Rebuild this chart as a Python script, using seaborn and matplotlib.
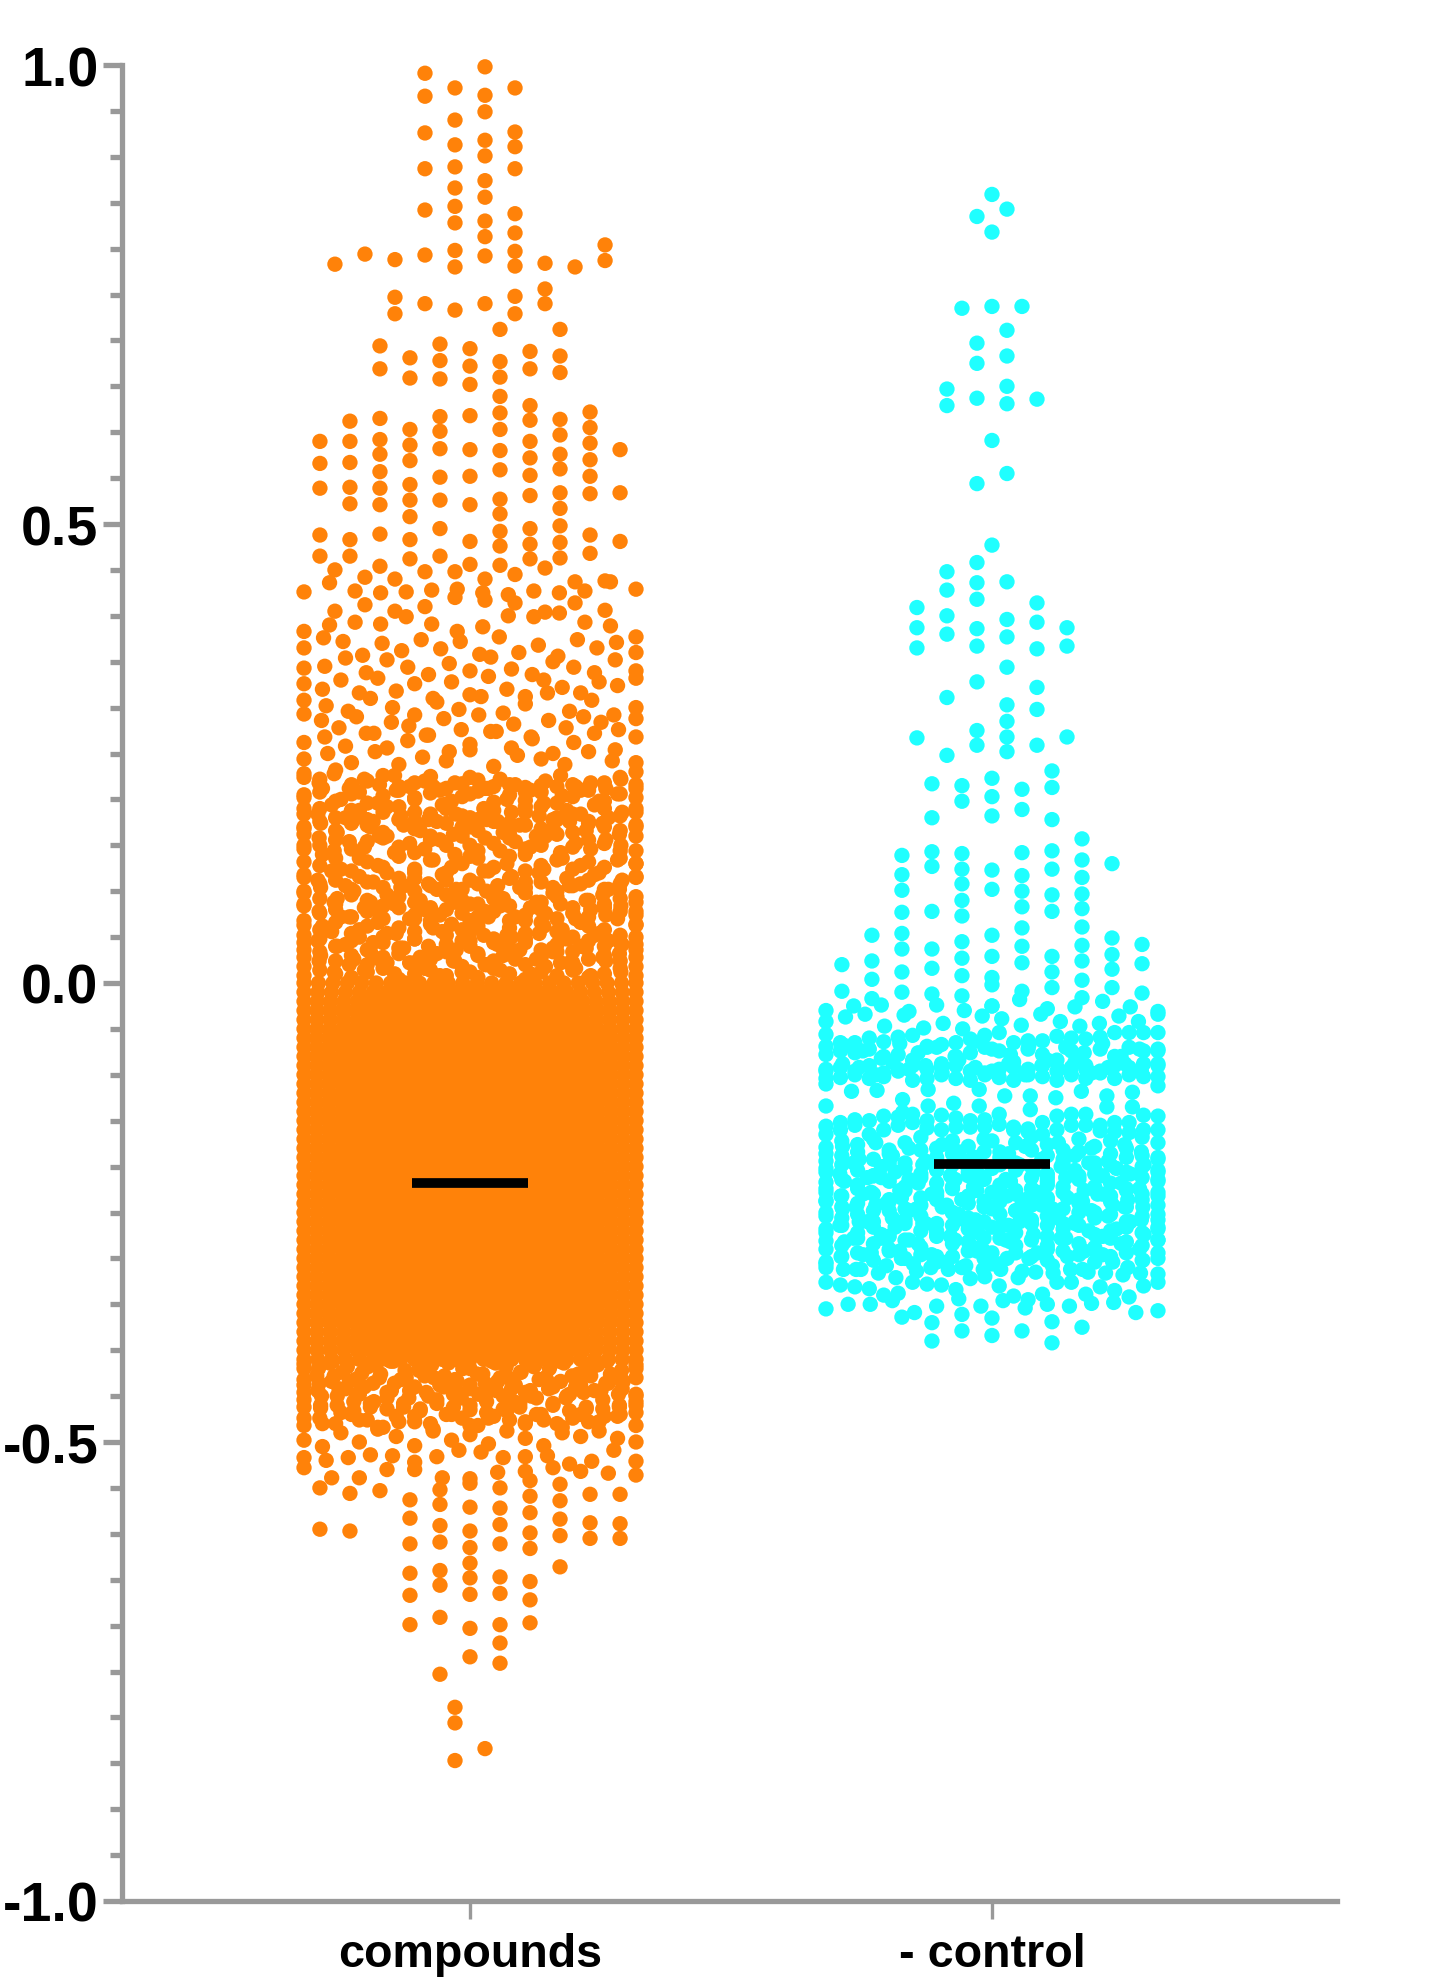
import matplotlib
matplotlib.use("Agg")
import matplotlib.pyplot as plt
import numpy as np
import pandas as pd
import seaborn as sns

sns.set_style("white")
plt.rcParams['font.family'] = ['Liberation Sans', 'DejaVu Sans']

# values are read off the picture, in thousandths of the y unit
# each inner list is one row of the dot plot, left to right, _ leaves a place empty
_ = None

categories = ["compounds", "- control"]
mean_values = [-0.218, -0.1975]
y_ticks = [-1.0, -0.5, 0.0, 0.5, 1.0]
y_tick_labels = ["-1.0", "-0.5", "0.0", "0.5", "1.0"]

orange_top = [
    [991, 975, 998, 975], [966, 940, 967, 927], [926, 913, 949, 911], [887, 889, 918, 887],
    [_, 866, 901, _], [_, 846, 874, _], [842, 828, 856, 838], [_, _, 830, 817], [_, _, 813, _],
    [783, 794, 788, 793, 798, 792, 797, 784, 780, 787],
    [_, _, _, _, 780, _, 781, _, _, 804],
    [747, 740, 733, 740, 748, 756], [729, _, _, _, 729, 740],
    [590, 612, 694, 681, 696, 691, 712, 688, 712, 622, 581],
    [566, 590, 669, 659, 678, 672, 677, 669, 683, 605, 534],
    [539, 567, 615, 603, 658, 652, 660, 629, 665, 588, 481],
    [488, 540, 592, 586, 617, 618, 639, 613, 614, 570, _],
    [465, 522, 576, 569, 601, 581, 621, 590, 597, 552, _],
    [_, 483, 557, 543, 582, 552, 603, 572, 576, 533, _],
    [_, 465, 539, 526, 551, 521, 580, 553, 560, 488, _],
    [_, _, 521, 508, 526, 481, 559, 531, 534, 468, _],
    [_, _, 489, 483, 495, 456, 527, 495, 517, _, _],
    [_, _, 454, 462, 465, _, 511, 478, 498, _, _],
    [_, _, _, _, _, _, 492, 462, 480, _, _],
    [_, _, _, _, _, _, 476, _, 463, _, _],
    [_, _, _, _, _, _, 455, _, _, _, _],
]

orange_upper = [
    [426, 436, 427, 425, 426, 428, 429, 425, 423, 427, 425, 427, 437, 429],
    [_, 450, 442, 440, 448, 448, 440, 445, 452, 437, 438, _],
    [_, 405, 412, 405, 410, 420, 417, 414, 404, 414, 406, _],
    [383, 390, 393, 391, 399, 391, 383, 388, 400, 399, 403, 393, 389, 377],
    [365, 376, 372, 357, 370, 362, 374, 364, 372, 358, 377, 360, 368, 356, 374, 365, 371, 360],
    [343, 345, 354, 338, 352, 344, 336, 348, 340, 355, 342, 336, 350, 344, 338, 352, 340],
    [326, 320, 330, 316, 332, 318, 326, 310, 328, 314, 334, 320, 312, 330, 322, 316, 328, 324, 332],
    [308, 302, 296, 310, 300, 292, 306, 298, 312, 294, 304, 316, 296, 308, 292, 300],
    [293, 286, 278, 290, 272, 284, 280, 270, 288, 276, 292, 274, 282, 268, 286, 278, 290, 284, 276, 288],
    [262, 268, 258, 272, 256, 264, 270, 252, 260, 274, 256, 266, 250, 262, 272, 254, 268],
    [244, 250, 240, 252, 238, 246, 242, 254, 236, 248, 244, 238, 252, 242, 240],
]

orange_band = [
    [228, 222, 232, 216, 220, 226, 214, 218, 225, 212, 217, 221, 214, 216, 213, 215, 214, 216, 213, 218, 224, 230],
    [224, 218, 228, 212, 222, 216, 226, 214, 220, 210, 218, 224, 212, 222, 216, 210, 220, 226, 214, 218, 212, 222, 216],
    [202, 208, 198, 206, 196, 204, 210, 200, 207, 195, 203, 209, 197, 205, 199, 208, 196, 203, 210, 198, 206, 202],
    [205, 212, 200, 208, 196, 210, 202, 214, 198, 206, 212, 200, 208, 196, 204, 210, 198, 206, 212],
    [184, 190, 180, 188, 178, 186, 192, 176, 184, 190, 182, 178, 188, 174, 186, 192, 180, 184, 176, 190, 182, 186],
    [190, 184, 194, 180, 188, 176, 192, 182, 186, 178, 194, 184, 180, 190, 176, 186, 192, 182, 178, 188, 184, 194, 180, 186, 190],
    [170, 176, 166, 174, 172, 164, 178, 168, 160, 174, 170, 166, 176, 162, 172, 168, 178, 164, 174, 170, 166, 172],
    [168, 174, 164, 178, 170, 160, 172, 166, 176, 162, 170, 178, 164, 172, 160, 168, 176, 166, 174, 162, 170],
    [162, 150, 156, 146, 154, 158, 148, 142, 156, 150, 160, 144, 152, 158, 146, 150, 162, 148, 156, 152, 144, 160],
    [150, 158, 144, 154, 148, 160, 142, 152, 146, 156, 140, 150, 158, 144, 154, 148, 160, 142, 152, 146, 156, 150, 144],
    [146, 128, 136, 122, 132, 126, 138, 124, 134, 120, 130, 136, 126, 138, 122, 128, 134, 124, 132, 126, 136, 130],
    [132, 140, 124, 136, 128, 142, 120, 134, 126, 138, 122, 130, 140, 124, 136, 128, 120, 134, 130],
    [115, 108, 112, 102, 110, 104, 114, 100, 106, 112, 102, 108, 98, 114, 104, 110, 100, 106, 112, 102, 108, 115],
    [118, 112, 122, 106, 116, 110, 120, 104, 114, 108, 118, 102, 112, 122, 106, 116, 110, 120, 104, 114, 108, 118, 102, 112, 116],
    [100, 92, 86, 96, 90, 84, 94, 88, 82, 96, 90, 86, 92, 84, 98, 88, 94, 82, 90, 86, 92, 88],
    [98, 104, 92, 100, 88, 96, 106, 90, 102, 94, 86, 100, 92, 104, 88, 98, 106, 90, 96, 102, 94],
    [86, 76, 80, 72, 78, 70, 82, 74, 68, 80, 76, 72, 78, 68, 74, 80, 70, 76, 72, 82, 78, 74],
    [84, 78, 88, 72, 82, 76, 86, 70, 80, 74, 88, 68, 78, 84, 72, 82, 76, 86, 70, 80, 74, 84, 78],
    [63, 58, 66, 54, 62, 50, 60, 56, 64, 52, 58, 62, 48, 60, 54, 66, 56, 50, 62, 58, 52, 63],
    [68, 62, 72, 58, 66, 54, 70, 60, 64, 56, 72, 52, 68, 62, 58, 66, 54, 70, 64],
    [44, 48, 40, 46, 36, 44, 38, 48, 34, 42, 46, 32, 44, 38, 48, 36, 42, 34, 46, 40, 44, 42],
    [52, 46, 56, 42, 50, 44, 54, 38, 48, 40, 56, 36, 46, 52, 42, 50, 44, 54, 38, 48, 40, 52, 46, 42, 50],
    [28, 34, 24, 30, 20, 28, 32, 22, 26, 34, 18, 30, 24, 32, 20, 28, 34, 22, 26, 30, 24, 28],
    [36, 30, 40, 26, 34, 22, 38, 28, 32, 24, 40, 20, 30, 36, 26, 34, 22, 38, 28, 32, 36],
    [8, 14, 10, 6, 12, 16, 4, 10, 14, 8, 12, 6, 16, 10, 4, 12, 8, 14, 6, 10, 16, 8],
    [18, 24, 12, 20, 14, 26, 10, 22, 16, 8, 24, 12, 20, 14, 26, 10, 18, 22, 16, 8, 24, 12, 18],
]

# the solid part of the orange column: level and number of dots on it
orange_block_levels = [0, -10, -20, -30, -40, -50, -60, -70, -80, -90, -100, -110, -120, -130,
                       -140, -150, -160, -170, -180, -190, -200, -210, -220, -230, -240, -250,
                       -260, -270, -280, -290, -300, -310, -320, -330, -340, -350, -360, -370,
                       -380, -390, -400, -410]
orange_block_counts = [24, 25, 26, 27, 26, 27, 28, 27, 28, 27, 28, 27, 28, 27,
                       28, 27, 28, 27, 28, 27, 28, 27, 28, 27, 28, 27,
                       28, 27, 28, 27, 28, 27, 28, 27, 28, 27, 28, 27,
                       26, 27, 26, 25]

orange_lower = [
    [-415, -420, -412, -418, -425, -416, -412, -422, -418, -430, -414, -420, -426, -412, -418, -424, -416, -420, -414, -426, -418, -412, -422, -416],
    [-420, -428, -414, -424, -432, -418, -426, -412, -430, -422, -416, -428, -434, -420, -426, -414, -430, -424, -418, -432, -412, -428, -422, -416, -426, -434, -420],
    [-432, -436, -428, -434, -440, -430, -436, -444, -428, -438, -432, -442, -436, -430, -438, -444, -430, -434, -440, -428, -436, -432, -430],
    [-438, -444, -434, -442, -448, -436, -446, -432, -440, -450, -436, -444, -438, -448, -434, -442, -446, -432, -440, -450, -438, -444, -436, -442, -448],
    [-446, -450, -442, -448, -456, -444, -452, -446, -440, -452, -448, -444, -456, -450, -442, -452, -446, -444, -448, -450],
    [-454, -460, -450, -456, -462, -452, -458, -464, -454, -448, -460, -456, -450, -462, -452, -458, -448, -464, -454, -460, -456],
    [-462, -463, -460, -466, -458, -464, -462, -466, -458, -462, -465, -468, -464, -458, -470, -460, -466, -462, -464, -462, -460],
    [-474, -480, -468, -476, -484, -472, -478, -486, -470, -482, -474, -466, -480, -476, -484, -470, -478, -472, -482],
    [-482, -474, -480, -470, -476, -484, -478, -472, -480, -470, -474, -482, -472, -476, -478, -470, -480, -474, -478, -472, -470, -468],
    [-498, -505, -490, -500, -486, -494, -504, -488, -498, -492, -502, -488, -496, -504, -490, -494, -488, -496, -500],
    [-517, -520, -517, -514, -515, -522, -516, -509, -511, -517, -516, -515, -524, -521, -509, -521],
    [-528, -539, -539, -530, -530, -539, -540, -533, -532, -528, -532, -534, -536],
    [-550, -556, -553, -563, -552, -545, -550, -542, -546, -557, -557],
    [-595, -597, _, -583, -568, -571, -572, -559, -564, -588, -589],
    [_, _, _, -611, -591, -597, -590, -577, -584, -605, -605],
    [_, _, _, -643, -609, -615, -611, -599, -602, _, _],
    [_, _, _, -667, -640, -632, -647, -616, -636, _, _],
    [_, _, _, -699, -656, -648, -665, -652, _, _, _],
    [_, _, _, _, -691, -666, -699, -672, _, _, _],
    [_, _, _, _, -753, -703, -719, -697, _, _, _],
    [_, _, _, _, _, -734, -741, _, _, _, _],
    [-789, -834], [-806, _], [-847, _],
]

cyan_top = [
    [859], [835, 843], [818], [735, 737, 737], [697, 711], [675, 683],
    [647, 637, 650, 636], [629, _, 631, _], [591], [544, 555], [477], [458, 437],
    [448, 436, _, 414], [428, 418, 396, 393],
    [409, 400, 386, 377, 364, 387], [387, 380, 367, _, _, 367], [365, _, _, _, _, _],
    [267, 311, 328, 344, 322, 268], [_, 248, 275, 303, 298, _], [_, _, 259, 285, 259, _],
    [_, _, _, 268, _, _], [_, _, _, 252, _, _],
    [_, _, 139, 217, 215, 223, 211, 231, 157, _, _],
    [_, _, 118, 180, 198, 203, 189, 213, 134, _, _],
    [_, _, 101, 143, 141, 182, 142, 178, 115, 130, _],
    [_, 52, 77, 127, 124, 123, 117, 144, 97, 49, 42],
    [20, 24, 54, 78, 108, 102, 100, 124, 81, 31, 21],
    [-9, 4, 37, 37, 90, 52, 83, 96, 61, 15, -11],
    [_, -17, 12, 16, 73, 29, 60, 78, 41, -5, _],
    [_, _, -10, -12, 45, 6, 40, 29, 24, _, _],
    [_, _, _, _, 27, -2, 22, 12, 3, _, _],
    [_, _, _, _, 8, -25, -9, -5, -16, _, _],
    [_, _, _, _, -14, _, _, _, _, _, _],
]

cyan_middle = [
    [-30, -25, -24, -31, -24, -30, -25, -18, -28, -26, -20, -26, -31],
    [-42, -37, -34, -47, -35, -49, -44, -50, -36, -39, -46, -34, -42, -47, -44, -36, -42, -34],
    [-56, -65, -65, -60, -64, -59, -57, -69, -67, -65, -61, -57, -54, -65, -63, -63, -58, -60, -61, -59, -54, -54, -54, -54],
    [-69, -74, -76, -72, -80, -78, -84, -70, -88, -80, -76, -70, -74, -86, -72, -78, -84, -74, -90, -72, -80, -70, -74, -72],
    [-78, -68, -74, -82, -66, -76, -70, -80, -64, -72, -78, -68, -84, -70, -76, -66, -80, -72, -74],
    [-94, -92, -96, -90, -98, -94, -90, -94, -92, -90, -96, -98, -94, -92, -94, -90, -96, -92, -94, -96, -90, -92, -88, -88],
    [-96, -88, -92, -100, -86, -94, -90, -98, -84, -92, -96, -88, -100, -90, -94, -86, -98, -92, -88, -96, -90],
    [-104, -103, -100, -104, -102, -96, -106, -104, -100, -104, -106, -100, -103, -106, -100, -102, -106, -100, -104, -98, -104, -100, -102, -102],
    [-110, -118, -117, -127, -116, -131, -116, -123, -123, -125, -118, -123, -119, -112],
    [-134, _, _, -141, -134, _, -134, _, -138, _, _, -135, -135, _],
    [-156, -152, -149, -150, -145, -146, -143, -150, -144, -147, -150, -149, -143, -157, -159, -152, -145, -143, -143, -155, -152, -152, -144, -145],
    [-165, -160, -155, -165, -160, -155, -152, -158, -160, -157, -157, -157, -154, -160, -162, -165, -160, -155, -155, -161, -162, -163, -160, -160],
]

cyan_dense = [
    [-179, -172, -176, -170, -182, -174, -168, -180, -172, -178, -170, -184, -174, -168, -176, -182, -170, -178, -172, -180, -168, -174],
    [-186, -178, -192, -174, -188, -180, -194, -176, -184, -190, -172, -186, -178, -192, -174, -188, -180, -194, -176, -184, -190],
    [-194, -188, -184, -192, -186, -196, -182, -190, -186, -194, -184, -190, -196, -182, -188, -192, -184, -196, -186, -190, -188, -192],
    [-202, -208, -196, -212, -200, -206, -214, -198, -204, -210, -196, -208, -202, -214, -198, -206, -212, -200, -204, -196, -210, -202, -208, -198, -206],
    [-206, -198, -204, -210, -196, -202, -208, -200, -198, -206, -212, -198, -204, -200, -208, -196, -210, -202, -198, -206, -200, -204],
    [-224, -216, -230, -212, -226, -218, -232, -214, -222, -228, -216, -234, -220, -212, -226, -230, -218, -224, -214],
    [-217, -214, -220, -210, -216, -222, -212, -218, -224, -210, -214, -220, -226, -212, -216, -222, -214, -208, -218, -224, -212, -216],
    [-238, -232, -244, -228, -240, -234, -246, -230, -242, -236, -226, -244, -232, -240, -228, -246, -234, -238, -230, -242, -236, -244, -232],
    [-228, -232, -224, -230, -236, -226, -234, -228, -222, -232, -238, -226, -230, -224, -234, -228, -236, -222, -232, -226, -230, -228],
    [-254, -246, -260, -242, -256, -248, -262, -244, -252, -258, -246, -264, -250, -242, -256, -260, -248, -254, -244, -258, -252],
    [-237, -244, -240, -248, -238, -246, -242, -236, -250, -240, -244, -238, -248, -242, -236, -246, -240, -250, -238, -244, -236, -242],
    [-272, -264, -278, -260, -274, -266, -280, -262, -270, -276, -258, -272, -266, -280, -260, -274, -264, -278, -262, -270, -276, -268, -260, -274, -266],
    [-250, -256, -252, -260, -248, -258, -254, -262, -250, -256, -260, -252, -248, -258, -254, -262, -250, -256, -252, -260, -254, -258],
    [-290, -282, -296, -278, -292, -284, -298, -280, -288, -294, -282, -300, -286, -278, -292, -296, -284, -290, -280],
    [-268, -264, -272, -266, -276, -262, -270, -274, -264, -268, -278, -266, -272, -262, -276, -268, -264, -274, -270, -266, -272, -268],
    [-306, -298, -312, -294, -308, -300, -314, -296, -304, -310, -292, -306, -300, -314, -294, -308, -298, -312, -296, -304, -310, -302, -294],
    [-281, -286, -278, -284, -290, -280, -288, -276, -284, -282, -292, -278, -286, -280, -290, -276, -284, -288, -278, -282, -286, -280],
    [-304, -298, -294, -302, -292, -300, -296, -304, -298, -292, -300, -306, -294, -298, -302, -292, -296, -304, -298, -294, -302, -300],
    [-310, -312, -312, -316, -321, -306, -310, -312, -308, -312, -312, -321, -315, -316, -312, -315, -316, -318, -316, -317],
    [-326, -329, -331, -333, -340, -338, -326, -328, -329, -334, -322, -320, -330, -341, -345, -339, -326, -326, -339, -331, -335, -342, -330, -326],
    [-355, -350, -350, -346, -359, -352, -344, -352, -346, -354, -350, -352, -349, -348, -359, -357],
    [-364, -370, -361, -365, -379, -369, -375],
    [_, -390, -379, -384, _, -392, _],
]

MAX_STEP = 0.0575
HALF_WIDTH = 0.318


def row_points(rows, center, group):
    """Lay each row out around its category: fixed step, squeezed to fit the column width."""
    records = []
    for row in rows:
        n = len(row)
        step = MAX_STEP if n < 2 else min(MAX_STEP, 2 * HALF_WIDTH / (n - 1))
        for i, value in enumerate(row):
            if value is not None:
                records.append({"x": center + (i - (n - 1) / 2) * step, "y": value / 1000, "group": group})
    return records


orange_block = [[level] * count for level, count in zip(orange_block_levels, orange_block_counts)]
orange_rows = orange_top + orange_upper + orange_band + orange_block + orange_lower
cyan_rows = cyan_top + cyan_middle + cyan_dense

df = pd.DataFrame(row_points(orange_rows, 0, categories[0]) + row_points(cyan_rows, 1, categories[1]))

fig = plt.figure(figsize=(14.56, 19.83), dpi=100)
ax = fig.add_axes([122 / 1456, 1 - 1902 / 1983, (1337 - 122) / 1456, (1902 - 66) / 1983])

sns.scatterplot(data=df, x="x", y="y", hue="group", palette=["#FF8209", "#1FFFFF"],
                s=122, linewidth=0, alpha=1, legend=False, clip_on=False, ax=ax)
ax.hlines(mean_values, np.arange(2) - 0.111, np.arange(2) + 0.111, colors="black",
          linewidth=7, capstyle="butt", zorder=5)

ax.set_xlim(-0.6667, 1.661)
ax.set_ylim(-1, 1)
ax.set_xlabel("")
ax.set_ylabel("")

sns.despine(ax=ax)
gray = "#999999"
for side in ["left", "bottom"]:
    ax.spines[side].set_color(gray)
    ax.spines[side].set_linewidth(3.8)

ax.set_xticks([0, 1], categories)
ax.set_yticks(y_ticks, y_tick_labels)
ax.set_yticks(np.arange(-19, 20) * 0.05, minor=True)
ax.tick_params(axis="y", which="major", direction="out", left=True, length=14, width=3.8,
               color=gray, pad=3, labelsize=40, labelcolor="black")
ax.tick_params(axis="y", which="minor", direction="out", left=True, length=9, width=3.8, color=gray)
ax.tick_params(axis="x", which="major", direction="out", bottom=True, length=13, width=2.4,
               color=gray, pad=9, labelsize=33.6, labelcolor="black")
for label in ax.get_xticklabels() + ax.get_yticklabels():
    label.set_fontweight("bold")

fig.savefig("out.png", dpi=100, facecolor="white")
